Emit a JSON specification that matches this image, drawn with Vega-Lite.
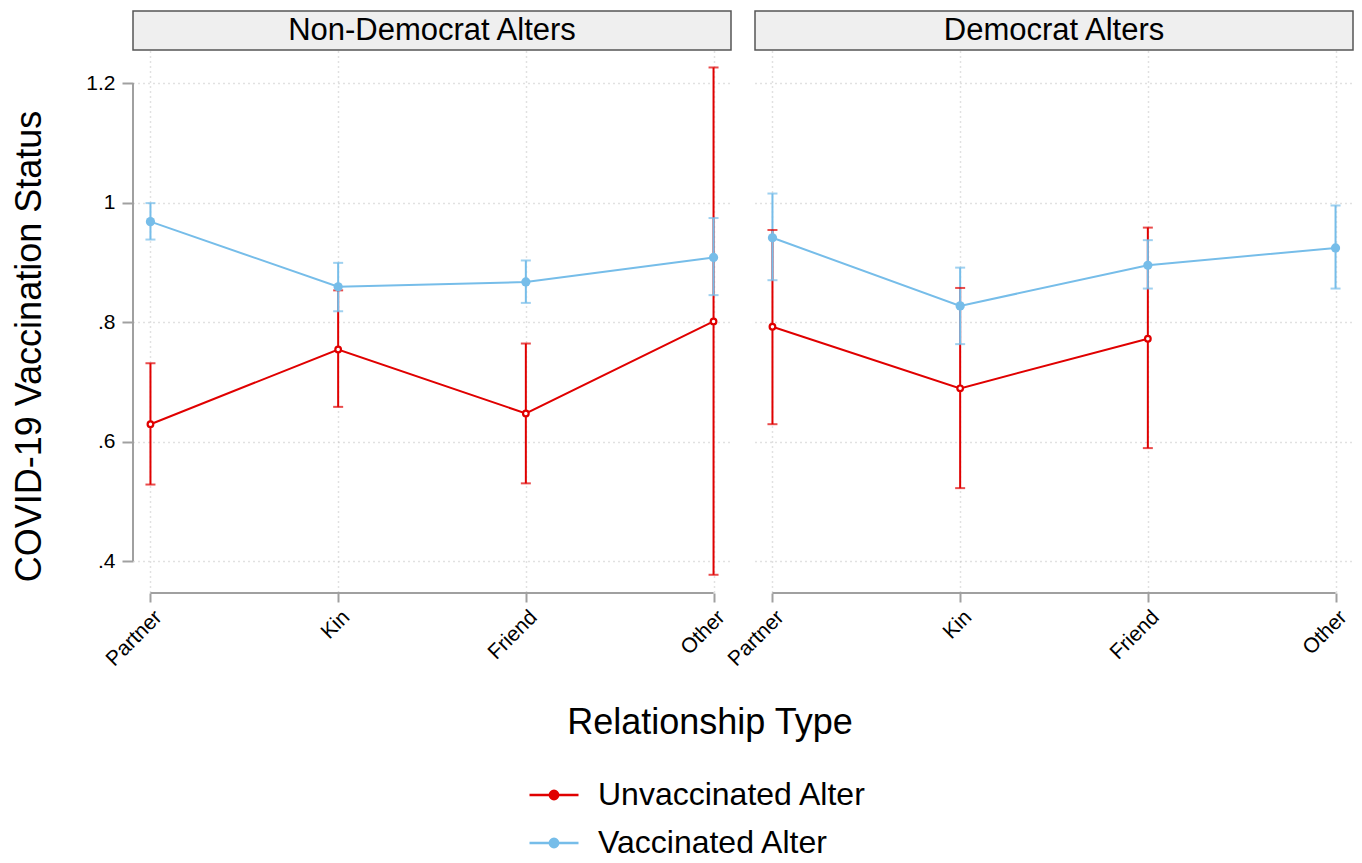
{
  "$schema": "https://vega.github.io/schema/vega-lite/v6.json",
  "padding": {"left": 11, "top": 10, "right": 5, "bottom": 5},
  "background": "white",
  "config": {"font": "Liberation Sans", "view": {"stroke": null}},
  "data": {"values": [
    {"panel": "Non-Democrat Alters", "rel": "Partner", "alter": "Unvaccinated Alter", "mean": 0.629, "lo": 0.528, "hi": 0.731},
    {"panel": "Non-Democrat Alters", "rel": "Kin", "alter": "Unvaccinated Alter", "mean": 0.754, "lo": 0.658, "hi": 0.853},
    {"panel": "Non-Democrat Alters", "rel": "Friend", "alter": "Unvaccinated Alter", "mean": 0.647, "lo": 0.530, "hi": 0.764},
    {"panel": "Non-Democrat Alters", "rel": "Other", "alter": "Unvaccinated Alter", "mean": 0.801, "lo": 0.377, "hi": 1.226},
    {"panel": "Non-Democrat Alters", "rel": "Partner", "alter": "Vaccinated Alter", "mean": 0.968, "lo": 0.938, "hi": 0.999},
    {"panel": "Non-Democrat Alters", "rel": "Kin", "alter": "Vaccinated Alter", "mean": 0.859, "lo": 0.818, "hi": 0.899},
    {"panel": "Non-Democrat Alters", "rel": "Friend", "alter": "Vaccinated Alter", "mean": 0.867, "lo": 0.832, "hi": 0.903},
    {"panel": "Non-Democrat Alters", "rel": "Other", "alter": "Vaccinated Alter", "mean": 0.908, "lo": 0.845, "hi": 0.974},
    {"panel": "Democrat Alters", "rel": "Partner", "alter": "Unvaccinated Alter", "mean": 0.792, "lo": 0.629, "hi": 0.954},
    {"panel": "Democrat Alters", "rel": "Kin", "alter": "Unvaccinated Alter", "mean": 0.689, "lo": 0.522, "hi": 0.857},
    {"panel": "Democrat Alters", "rel": "Friend", "alter": "Unvaccinated Alter", "mean": 0.772, "lo": 0.589, "hi": 0.958},
    {"panel": "Democrat Alters", "rel": "Partner", "alter": "Vaccinated Alter", "mean": 0.941, "lo": 0.870, "hi": 1.015},
    {"panel": "Democrat Alters", "rel": "Kin", "alter": "Vaccinated Alter", "mean": 0.827, "lo": 0.763, "hi": 0.891},
    {"panel": "Democrat Alters", "rel": "Friend", "alter": "Vaccinated Alter", "mean": 0.895, "lo": 0.856, "hi": 0.937},
    {"panel": "Democrat Alters", "rel": "Other", "alter": "Vaccinated Alter", "mean": 0.924, "lo": 0.856, "hi": 0.995}
  ]},
  "facet": {"column": {"field": "panel", "type": "nominal", "sort": ["Non-Democrat Alters", "Democrat Alters"],
    "header": {"labels": false, "title": null}}},
  "spacing": 24,
  "bounds": "flush",
  "resolve": {"scale": {"x": "independent"}},
  "spec": {
    "width": 598,
    "height": 582,
    "resolve": {"scale": {"x": "independent"}},
    "layer": [
      {
        "transform": [{"filter": "datum.rel === 'Partner' && datum.alter === 'Vaccinated Alter'"}],
        "layer": [
          {
            "mark": {"type": "rect", "fill": "#efefef", "stroke": "#555555", "strokeWidth": 1.5},
            "encoding": {
              "x": {"datum": 0, "type": "quantitative", "scale": {"domain": [0, 1]}, "axis": null},
              "x2": {"datum": 1},
              "y": {"datum": 1.2552, "type": "quantitative", "scale": {"domain": [0.3465, 1.3205], "nice": false, "zero": false}},
              "y2": {"datum": 1.3205}
            }
          },
          {
            "mark": {"type": "text", "fontSize": 31, "color": "black", "baseline": "middle", "align": "center", "font": "Liberation Sans"},
            "encoding": {
              "x": {"datum": 0.5, "type": "quantitative", "scale": {"domain": [0, 1]}, "axis": null},
              "y": {"datum": 1.2875, "type": "quantitative", "scale": {"domain": [0.3465, 1.3205], "nice": false, "zero": false}},
              "text": {"field": "panel"}
            }
          },
          {
            "transform": [{"filter": "datum.panel === 'Non-Democrat Alters'"}],
            "mark": {"type": "rule", "color": "#a0a0a0", "strokeWidth": 2},
            "encoding": {
              "x": {"datum": 0, "type": "quantitative", "scale": {"domain": [0, 1]}, "axis": null},
              "y": {"datum": 0.4, "type": "quantitative", "scale": {"domain": [0.3465, 1.3205], "nice": false, "zero": false}},
              "y2": {"datum": 1.2}
            }
          },
          {
            "transform": [{"filter": "datum.panel === 'Non-Democrat Alters'"}],
            "mark": {"type": "text", "fontSize": 36, "color": "black", "baseline": "alphabetic", "align": "center", "font": "Liberation Sans", "text": "Relationship Type"},
            "encoding": {
              "x": {"datum": 0.9649, "type": "quantitative", "scale": {"domain": [0, 1]}, "axis": null},
              "y": {"datum": 0.1105, "type": "quantitative", "scale": {"domain": [0.3465, 1.3205], "nice": false, "zero": false}}
            }
          }
        ]
      },
      {
        "encoding": {
          "x": {"field": "rel", "type": "ordinal", "sort": ["Partner", "Kin", "Friend", "Other"],
            "scale": {"type": "point", "domain": ["Partner", "Kin", "Friend", "Other"], "padding": 0.093},
            "axis": {"title": null, "labelAngle": -45, "labelFontSize": 21, "labelColor": "black", "labelFont": "Liberation Sans", "labelPadding": 4, "domain": false, "tickSize": 9, "tickWidth": 2, "tickColor": "#a0a0a0", "grid": true, "gridColor": "#c4c4c4", "gridDash": [1, 4], "gridWidth": 1.5}},
          "y": {"field": "mean", "type": "quantitative", "scale": {"domain": [0.3465, 1.3205], "nice": false, "zero": false},
            "axis": {"title": "COVID-19 Vaccination Status", "titleFontSize": 36, "titleFontWeight": "normal", "titleColor": "black", "titleFont": "Liberation Sans", "titlePadding": 37, "titleY": 335,
              "values": [0.4, 0.6, 0.8, 1, 1.2],
              "labelExpr": "datum.value >= 1 ? format(datum.value, '') : replace(format(datum.value, '.1f'), '0.', '.')",
              "labelFontSize": 21, "labelColor": "black", "labelFont": "Liberation Sans", "labelPadding": 7,
              "domain": false, "tickSize": 11, "tickWidth": 2, "tickColor": "#a0a0a0",
              "grid": true, "gridColor": "#c4c4c4", "gridDash": [1, 4], "gridWidth": 1.5}},
          "color": {"field": "alter", "type": "nominal",
            "scale": {"domain": ["Unvaccinated Alter", "Vaccinated Alter"], "range": ["#e00000", "#76bde9"]},
            "legend": {"orient": "none", "legendX": 395, "legendY": 758, "title": null, "direction": "vertical",
              "symbolType": "M-1,0H-0.17M0.17,0H1M-0.17,0A0.17,0.17,0,1,0,0.17,0A0.17,0.17,0,1,0,-0.17,0Z",
              "symbolSize": 2401, "symbolStrokeWidth": 2.5, "labelFontSize": 32, "labelFont": "Liberation Sans", "labelColor": "black", "labelOffset": 18, "labelLimit": 500, "rowPadding": 6, "padding": 0,
              "encode": {"symbols": {"update": {
                "fill": [{"test": "datum.value === 'Unvaccinated Alter'", "value": "white"}, {"scale": "color", "field": "value"}],
                "stroke": {"scale": "color", "field": "value"},
                "opacity": {"value": 1}
              }}}}}
        },
        "layer": [
          {
            "transform": [{"filter": "datum.rel === 'Partner' && datum.alter === 'Vaccinated Alter'"}],
            "mark": {"type": "rule", "strokeWidth": 2, "color": "#a0a0a0"},
            "encoding": {
              "x": {"datum": "Partner", "type": "ordinal"},
              "x2": {"datum": "Other"},
              "y": {"datum": 0.3465, "type": "quantitative"},
              "color": {"value": "#a0a0a0"}
            }
          },
          {
            "mark": {"type": "rule", "strokeWidth": 2},
            "encoding": {
              "y": {"field": "lo", "type": "quantitative"},
              "y2": {"field": "hi"}
            }
          },
          {
            "mark": {"type": "tick", "thickness": 2, "size": 10, "orient": "horizontal"},
            "encoding": {"y": {"field": "lo", "type": "quantitative"}}
          },
          {
            "mark": {"type": "tick", "thickness": 2, "size": 10, "orient": "horizontal"},
            "encoding": {"y": {"field": "hi", "type": "quantitative"}}
          },
          {
            "mark": {"type": "line", "strokeWidth": 2},
            "encoding": {"order": {"value": null}}
          },
          {
            "transform": [{"filter": "datum.alter === 'Vaccinated Alter'"}],
            "mark": {"type": "point", "filled": true, "size": 85, "opacity": 1},
            "encoding": {}
          },
          {
            "transform": [{"filter": "datum.alter === 'Unvaccinated Alter'"}],
            "mark": {"type": "point", "filled": false, "fill": "white", "fillOpacity": 1, "strokeWidth": 2.2, "size": 32, "opacity": 1},
            "encoding": {}
          }
        ]
      }
    ]
  }
}
